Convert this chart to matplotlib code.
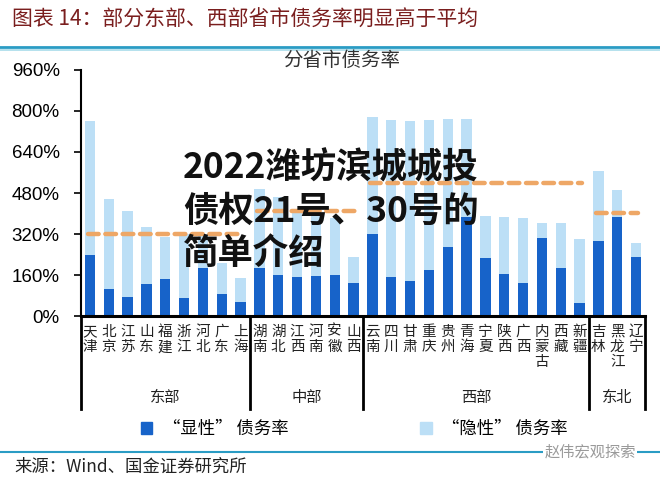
import matplotlib.pyplot as plt
from matplotlib.lines import Line2D
from matplotlib.patches import Patch

plt.rcParams['font.family'] = ['Noto Sans CJK SC', 'DejaVu Sans']

# data
provinces = ['天津', '北京', '江苏', '山东', '福建', '浙江', '河北', '广东', '上海',
             '湖南', '湖北', '江西', '河南', '安徽', '山西',
             '云南', '四川', '甘肃', '重庆', '贵州', '青海', '宁夏', '陕西', '广西',
             '内蒙古', '西藏', '新疆',
             '吉林', '黑龙江', '辽宁']
explicit = [238, 107, 73, 125, 144, 69, 187, 86, 57,
            188, 160, 151, 156, 160, 131,
            320, 152, 138, 180, 268, 387, 226, 163, 128, 306, 186, 50,
            294, 388, 229]
total = [761, 458, 410, 349, 310, 320, 315, 208, 150,
         496, 466, 414, 425, 382, 231,
         775, 765, 760, 765, 770, 770, 390, 385, 381, 362, 362, 299,
         566, 492, 286]
regions = ['东部', '中部', '西部', '东北']
region_size = [9, 6, 12, 3]
region_avg = [320, 410, 518, 403]
yticks = [0, 160, 320, 480, 640, 800, 960]

hidden = [t - e for t, e in zip(total, explicit)]
x = list(range(len(provinces)))

dark = '#1763c9'
light = '#bcdff6'
orange = '#eea766'
teal = '#2a9cc4'

fig = plt.figure(figsize=(6.6, 4.82), dpi=100)
ax = fig.add_axes([0.122, 0.344, 0.856, 0.511])

ax.bar(x, explicit, width=0.55, color=dark, zorder=2)
ax.bar(x, hidden, bottom=explicit, width=0.55, color=light, zorder=2)

# region averages as dashed lines
start = 0
for n, avg in zip(region_size, region_avg):
    ax.plot([start - 0.12, start + n - 1 + 0.12], [avg, avg], color=orange,
            lw=3.2, dashes=(2.4, 1.5), dash_capstyle='round', zorder=3)
    start += n

ax.set_xlim(-0.5, len(provinces) - 0.5)
ax.set_ylim(0, 960)
ax.set_yticks(yticks)
ax.set_yticklabels([f'{v}%' for v in yticks], fontsize=13.5,
                   family=['Liberation Sans', 'DejaVu Sans'])
ax.set_xticks([])
for s in ['top', 'right']:
    ax.spines[s].set_visible(False)
ax.spines['left'].set_linewidth(1.5)
ax.spines['bottom'].set_linewidth(2.2)
ax.tick_params(axis='y', length=5, width=1.2, pad=10)

# province labels, written vertically
trans = ax.get_xaxis_transform()
for i, name in enumerate(provinces):
    ax.text(i, -0.035, '\n'.join(name), transform=trans, ha='center', va='top',
            fontsize=10.5, linespacing=1.12, color='#222222')

# region separators and names
edges = [-0.5]
for n in region_size:
    edges.append(edges[-1] + n)
for e in edges:
    ax.plot([e, e], [0, -0.375], transform=trans, color='black', lw=2,
            clip_on=False)
for name, a, b in zip(regions, edges[:-1], edges[1:]):
    ax.text((a + b) / 2, -0.33, name, transform=trans, ha='center',
            va='center', fontsize=11, color='#222222')

fig.text(0.518, 1 - 60 / 482, '分省市债务率', ha='center', va='center',
         fontsize=14, color='#333333')

handles = [Patch(color=dark), Patch(color=light)]
fig.legend(handles, ['“显性” 债务率', '“隐性” 债务率'], loc='center',
           bbox_to_anchor=(0.537, 1 - 429 / 482), ncol=2, frameon=False,
           fontsize=12.5, columnspacing=7.6, handlelength=0.65,
           handleheight=0.65, handletextpad=0.6)

# title, rules and source
fig.text(0.018, 1 - 20 / 482, '图表 14：部分东部、西部省市债务率明显高于平均',
         ha='left', va='center', fontsize=15, color='#7a1e1e')
fig.add_artist(Line2D([0, 1], [1 - 47 / 482] * 2, color=teal, lw=2))
fig.add_artist(Line2D([0, 1], [1 - 50 / 482] * 2, color='#a8dcea', lw=1.2))
fig.add_artist(Line2D([0, 1], [1 - 452 / 482] * 2, color=teal, lw=1.5))
fig.text(0.022, 1 - 467 / 482, '来源：Wind、国金证券研究所', ha='left',
         va='center', fontsize=12.5, color='#222222')
fig.text(0.825, 1 - 452 / 482, '赵伟宏观探索', ha='left', va='center',
         fontsize=11, color='#9a9a9a',
         bbox=dict(facecolor='white', edgecolor='none', pad=1))

# overlay text sitting on top of the chart
fig.text(0.277, 1 - 211 / 482, '2022潍坊滨城城投\n债权21号、30号的\n简单介绍',
         ha='left', va='center', fontsize=25.5, fontweight='black',
         color='#111111', linespacing=1.28)

fig.savefig('out.png', dpi=100)
